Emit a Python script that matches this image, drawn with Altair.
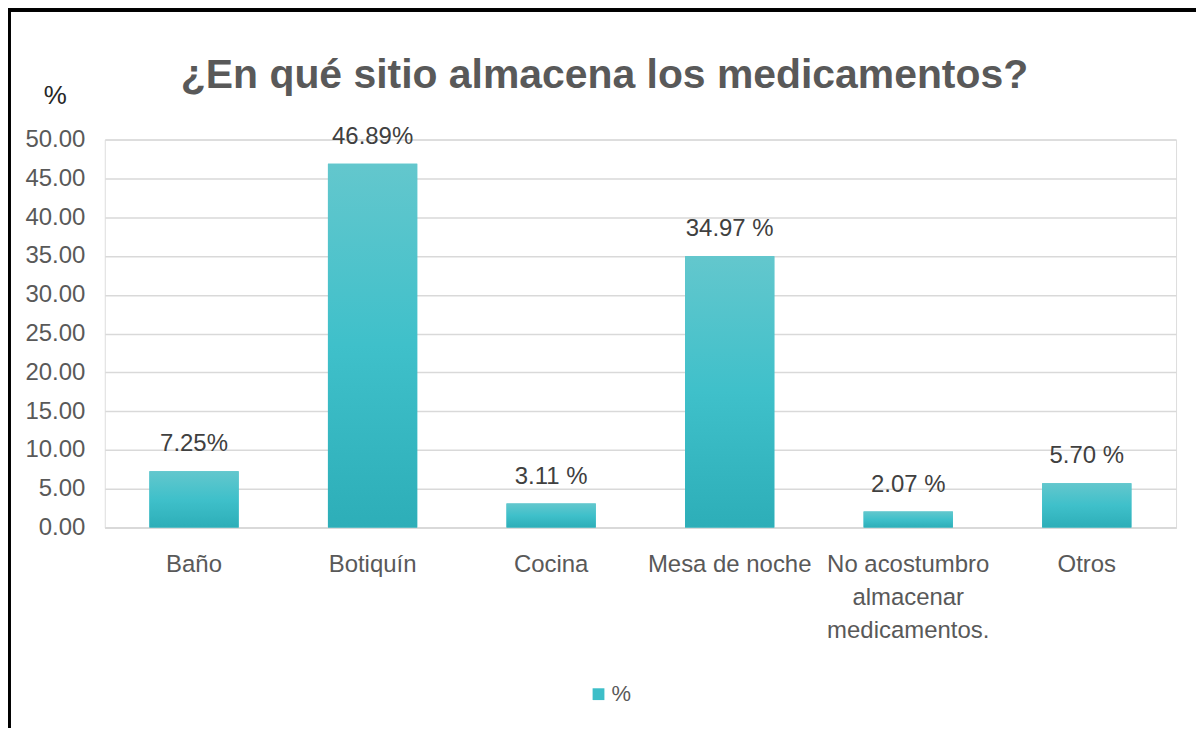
import altair as alt
import pandas as pd

categorias = ["Baño", "Botiquín", "Cocina", "Mesa de noche",
              "No acostumbro|almacenar|medicamentos.", "Otros"]
valores = [7.25, 46.89, 3.11, 34.97, 2.07, 5.70]
etiquetas = ["7.25%", "46.89%", "3.11 %", "34.97 %", "2.07 %", "5.70 %"]
serie = "%"
y_ticks = [0, 5, 10, 15, 20, 25, 30, 35, 40, 45, 50]
titulo = "¿En qué sitio almacena los medicamentos?"

df = pd.DataFrame({"cat": categorias, "val": valores, "lab": etiquetas,
                   "serie": [serie] * len(categorias)})

FONT = "Liberation Sans, Arial, sans-serif"
GRAY = "#595959"
FS = 24

x = alt.X("cat:N", sort=categorias, title=None,
          scale=alt.Scale(paddingInner=0.5, paddingOuter=0.25),
          axis=alt.Axis(labelExpr="split(datum.label, '|')", labelAngle=0,
                        ticks=False, domainColor="#D9D9D9", domainWidth=2,
                        labelFontSize=FS, labelColor=GRAY, labelFont=FONT,
                        labelPadding=25, labelLineHeight=33, labelLimit=0))
y = alt.Y("val:Q", scale=alt.Scale(domain=[0, 50], nice=False),
          axis=alt.Axis(values=y_ticks, format=".2f", title="%",
                        titleAngle=0, titleX=-50, titleY=-44,
                        titleAlign="center", titleBaseline="middle",
                        titleFontSize=26, titleFontWeight="normal",
                        titleColor="#262626", titleFont=FONT,
                        labelFontSize=FS, labelColor=GRAY, labelFont=FONT,
                        labelPadding=20, domain=False, ticks=False,
                        gridColor="#D9D9D9", gridWidth=1.5))

base = alt.Chart(df)

legend_bars = base.mark_bar().encode(
    x=x, y=y,
    color=alt.Color("serie:N", scale=alt.Scale(range=["#3DBEC8"]),
                    legend=alt.Legend(title=None, orient="none",
                                      legendX=484, legendY=545,
                                      symbolType="square", symbolSize=140,
                                      labelFontSize=22, labelFont=FONT,
                                      labelColor=GRAY, labelOffset=2)))

grad = alt.Gradient(gradient="linear",
                    stops=[alt.GradientStop(color="#63C7CD", offset=0),
                           alt.GradientStop(color="#3FC0CA", offset=0.5),
                           alt.GradientStop(color="#2DAEB8", offset=1)],
                    x1=0, x2=0, y1=0, y2=1)
bars = base.mark_bar(fill=grad).encode(x=x, y=y)

texts = base.mark_text(baseline="alphabetic", dy=-20, fontSize=FS, font=FONT,
                       color="#404040").encode(x=x, y=y, text="lab:N")

frame_left = base.mark_rule(color="black", strokeWidth=3).encode(
    x=alt.value(-96), y=alt.value(-130), y2=alt.value(600))
frame_top = base.mark_rule(color="black", strokeWidth=3).encode(
    x=alt.value(-97), x2=alt.value(1100), y=alt.value(-130))

chart = alt.layer(legend_bars, bars, texts, frame_left, frame_top).properties(
    width=1074, height=389,
    padding={"left": 97, "top": 131, "right": 20, "bottom": 200},
    autosize=alt.AutoSizeParams(type="none"),
    title=alt.TitleParams(titulo, fontSize=41, font=FONT, fontWeight="bold",
                          color=GRAY, anchor="middle", dx=-36, dy=93),
).configure_view(stroke=None).configure(background="white")

chart.save("out.html", embed_options={"renderer": "svg", "actions": False})
